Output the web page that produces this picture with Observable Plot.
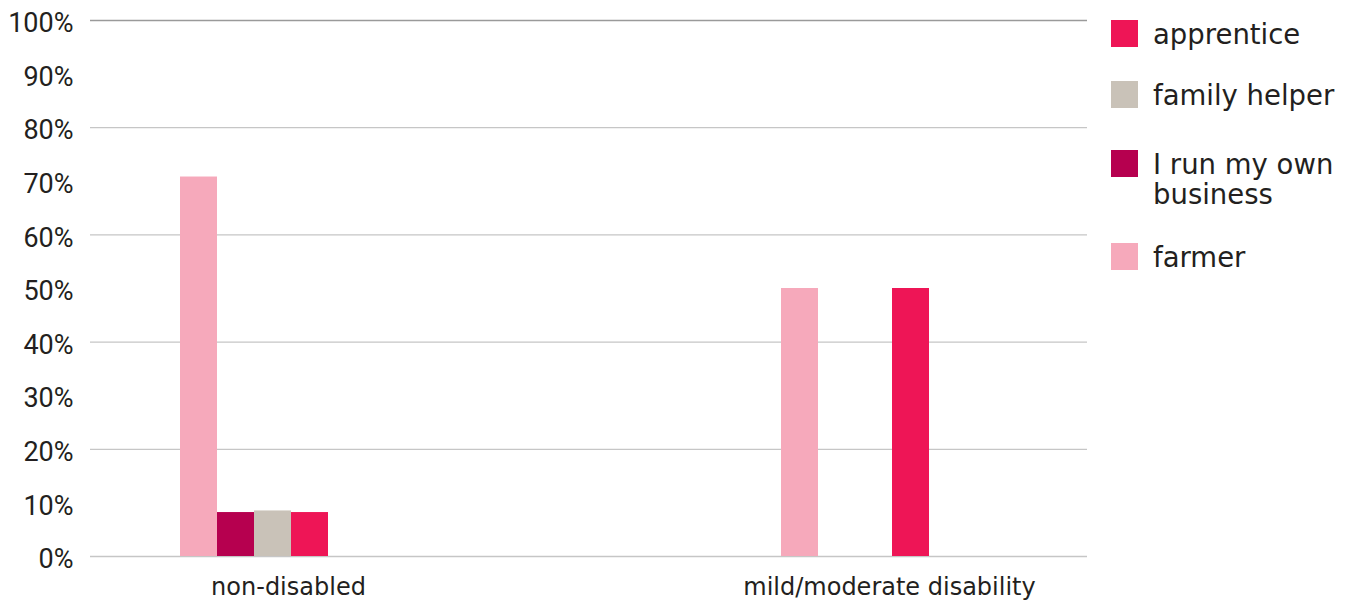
<!DOCTYPE html>
<html><head><meta charset="utf-8">
<script src="https://cdn.jsdelivr.net/npm/d3@7"></script>
<script src="https://cdn.jsdelivr.net/npm/@observablehq/plot@0.6"></script>
<style>
body{margin:0;background:#fff;font-family:"DejaVu Sans",sans-serif;}
#wrap{position:relative;width:1348px;height:606px;overflow:hidden;}
.layer{position:absolute;left:0;top:0;}
.item{position:absolute;left:1111px;display:flex;align-items:flex-start;}
.sw{width:27px;height:27px;flex:none;}
.lab{margin-left:15px;font-size:27.5px;line-height:30px;color:#231f20;width:192px;margin-top:-1px;}
</style></head><body>
<div id="wrap"><div id="grid" class="layer"></div><div id="bars" class="layer"></div></div>
<script>
const groups = ["non-disabled", "mild/moderate disability"];
const series = ["farmer", "I run my own business", "family helper", "apprentice"];
const colors = ["#f6a9bb", "#b6004f", "#c9c2b8", "#ee1556"];
const nonDisabled = [70.8, 8.2, 8.5, 8.2];
const mildModerate = [50, 0, 0, 50];
const yTicks = [0, 10, 20, 30, 40, 50, 60, 70, 80, 90, 100];
const gridTicks = [0, 20, 40, 60, 80, 100];
const legendOrder = ["apprentice", "family helper", "I run my own business", "farmer"];
const legendTops = [20, 81, 150, 243];

const values = [nonDisabled, mildModerate];
const data = [];
groups.forEach((g, gi) => series.forEach((s, si) => data.push({group: g, series: s, value: values[gi][si]})));

const frame = {width: 1090, height: 606, marginLeft: 90, marginRight: 3, marginTop: 20, marginBottom: 50};
const yScale = {domain: [0, 100], label: null};

// layer 1: gridlines + y axis
const gridPlot = Plot.plot({
  ...frame,
  style: {fontFamily: "Roboto", fontSize: "27px", color: "#231f20", background: "#fff"},
  y: yScale,
  marks: [
    Plot.ruleY(gridTicks, {y: d => d, stroke: d => d === 100 ? "#9a9a9a" : "#c6c6c6", strokeWidth: 1.3}),
    Plot.axisY(yTicks, {tickSize: 0, tickPadding: 17, dy: 3, tickFormat: d => d + "%", label: null, fill: "#231f20"})
  ]
});
document.getElementById("grid").appendChild(gridPlot);

// layer 2: bars + category axis
const barPlot = Plot.plot({
  ...frame,
  style: {fontFamily: "DejaVu Sans", fontSize: "24px", color: "#231f20", background: "transparent"},
  fx: {domain: groups, paddingInner: 0.641, paddingOuter: 0.149, label: null, axis: "bottom", tickSize: 0, tickPadding: 21},
  x: {domain: series, paddingInner: 0, paddingOuter: 0.88, align: 0, axis: null},
  y: {...yScale, axis: null},
  color: {domain: series, range: colors},
  marks: [
    Plot.barY(data, {fx: "group", x: "series", y: "value", fill: "series", inset: 0})
  ]
});
document.getElementById("bars").appendChild(barPlot);

const colorOf = Object.fromEntries(series.map((s, i) => [s, colors[i]]));
const wrap = document.getElementById("wrap");
legendOrder.forEach((s, i) => {
  const it = document.createElement("div");
  it.className = "item";
  it.style.top = legendTops[i] + "px";
  const sw = document.createElement("div");
  sw.className = "sw";
  sw.style.background = colorOf[s];
  const lab = document.createElement("div");
  lab.className = "lab";
  lab.textContent = s;
  it.appendChild(sw); it.appendChild(lab);
  wrap.appendChild(it);
});
</script>
</body></html>
